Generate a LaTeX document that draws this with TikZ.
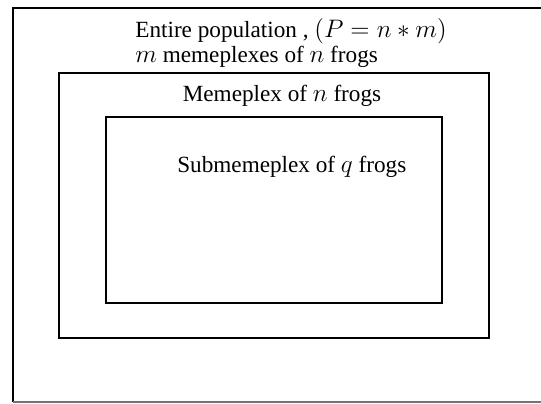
\documentclass[tikz,border=0pt]{standalone}
\usepackage{fontspec}
\setmainfont{Liberation Serif}
\newcommand{\mth}[1]{{\fontsize{13.7}{16}\selectfont$#1$}}
\begin{document}
\begin{tikzpicture}[x=0.02cm, y=-0.02cm, every node/.style={font=\fontsize{13.2}{16}\selectfont, inner sep=0pt}]
\tikzset{frame/.style={draw=black, line width=1.2pt}}
\useasboundingbox (0,0) rectangle (541,403);
% whole population, open on the right
\draw[frame] (560,8) -- (13,8) -- (13,402);
\draw[black!55, line width=0.8pt] (13,402) -- (560,402);
\draw[frame] (59,73) rectangle (489,338);
\draw[frame] (106,117) rectangle (442,303);
\node[anchor=base west] (popline) at (135,37) {Entire population , \mth{(P = n * m)}};
\node[anchor=base west] (memeline) at (135,62) {\mth{m} memeplexes of \mth{n} frogs};
\node[anchor=base] (memeplex) at (282,101) {Memeplex of \mth{n} frogs};
\node[anchor=base west] (submeme) at (177,172) {Submemeplex of \mth{q} frogs};
\end{tikzpicture}
\end{document}
